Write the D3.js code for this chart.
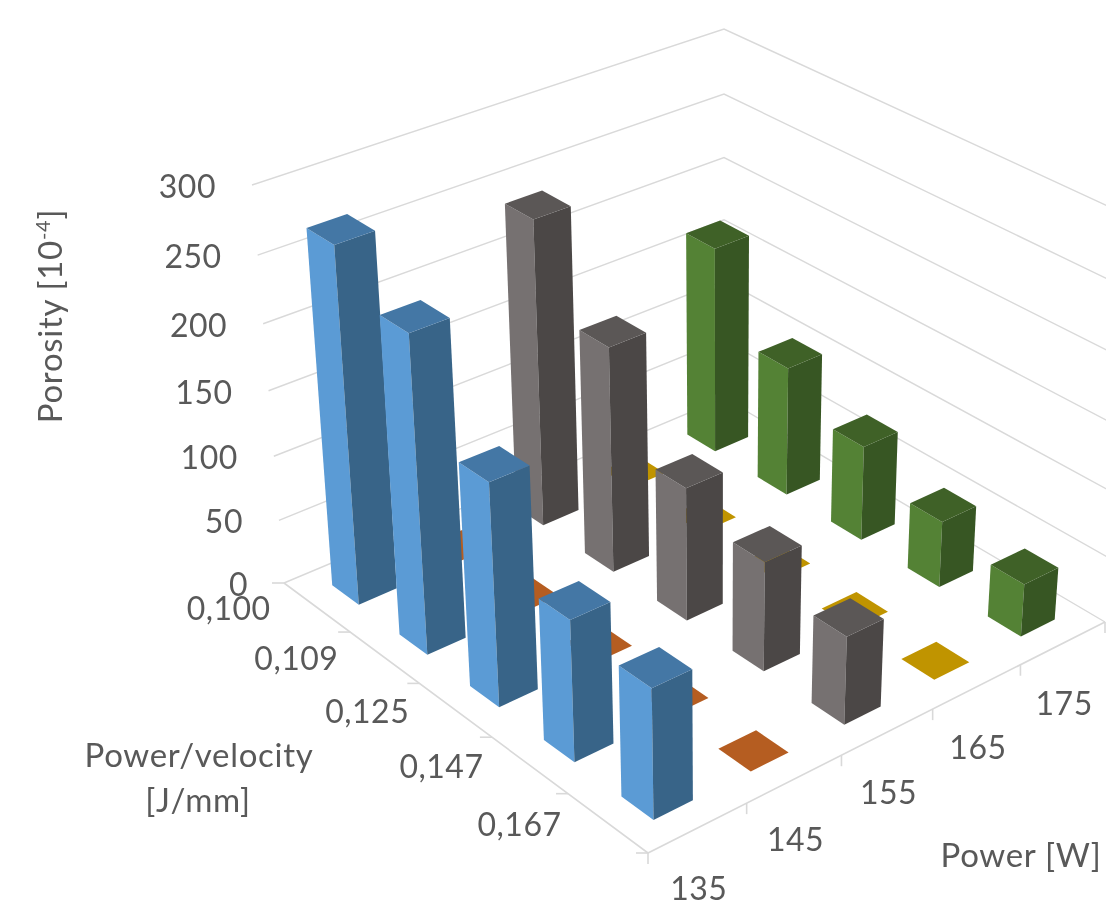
<!DOCTYPE html>
<html><head><meta charset="utf-8">
<script src="https://cdnjs.cloudflare.com/ajax/libs/d3/7.8.5/d3.min.js"></script>
<style>html,body{margin:0;padding:0;background:#fff;overflow:hidden}svg{display:block;filter:blur(0.5px)}text{font-family:Lato,"Open Sans",sans-serif;fill:#595959}</style>
</head><body><svg id="c" width="1106" height="916"></svg>
<script>
const powers = ["135","145","155","165","175"];
const energies = ["0,100","0,109","0,125","0,147","0,167"];
const porosityTicks = [0,50,100,150,200,250,300];
const s135 = [271,240,168,106,97];
const s145 = [0,0,0,0,0];
const s155 = [239,175,103,84,67];
const s165 = [0,0,0,0,0];
const s175 = [166,103,75,52,41];
const seriesValues = [s135,s145,s155,s165,s175];
const seriesColors = [
 {left:"#5B9BD5",right:"#386488",top:"#4477A5"},
 {left:"#B55D21",right:"#8a4718",top:"#B55D21"},
 {left:"#767171",right:"#4B4746",top:"#5B5756"},
 {left:"#BF9000",right:"#917000",top:"#C09400"},
 {left:"#548235",right:"#375623",top:"#3F6127"}];

// projective frame of the plot box: floor and ceiling corners
const floorC = {a:[284,583],b:[648,853],c:[1105,622],d:[724,398]};
const topC   = {a:[252,185],b:[641.5,423],c:[1138,220],d:[724,29]};
function homography(q){ // unit square (u,v): a(0,0) b(0,1) c(1,1) d(1,0)
  const [x0,y0]=q.a,[x3,y3]=q.b,[x2,y2]=q.c,[x1,y1]=q.d;
  const dx1=x1-x2,dx2=x3-x2,sx=x0-x1+x2-x3,dy1=y1-y2,dy2=y3-y2,sy=y0-y1+y2-y3;
  const den=dx1*dy2-dx2*dy1;
  const g=(sx*dy2-dx2*sy)/den,h=(dx1*sy-sx*dy1)/den;
  const A=x1-x0+g*x1,B=x3-x0+h*x3,D=y1-y0+g*y1,E=y3-y0+h*y3;
  return (u,v)=>{const w=g*u+h*v+1;return [(A*u+B*v+x0)/w,(D*u+E*v+y0)/w];};
}
const fl=homography(floorC), tp=homography(topC);
const k=1.07;
const zS=d3.scaleLinear().domain([0,300]).range([0,1]);
function P(u,v,val){
  const w=zS(val), t=w/(w+(1-w)*k);
  const p=fl(u,v),q=tp(u,v);
  return [p[0]+(q[0]-p[0])*t,p[1]+(q[1]-p[1])*t];
}
const uS=d3.scaleBand().domain(powers).range([0,1]).paddingInner(0.6).paddingOuter(0.3);
const vS=d3.scaleBand().domain(energies).range([0,1]).paddingInner(0.6).paddingOuter(0.3);
const svg=d3.select("#c");
const line=d3.line();
const grid="#D9D9D9";

// wall gridlines
svg.append("g").selectAll("path").data(porosityTicks).join("path")
  .attr("d",z=>line([P(0,0,z),P(1,0,z),P(1,1,z)]))
  .attr("fill","none").attr("stroke",grid).attr("stroke-width",1.4);
// floor edges
svg.append("path").attr("d",line([P(0,0,0),P(0,1,0),P(1,1,0)]))
  .attr("fill","none").attr("stroke",grid).attr("stroke-width",1.6);
// ticks
const edge=d3.range(6).map(i=>i/5);
svg.append("g").selectAll("path").data(edge).join("path")
  .attr("d",t=>{const p=P(0,t,0);return line([p,[p[0]-12,p[1]]]);})
  .attr("stroke",grid).attr("stroke-width",1.6);
svg.append("g").selectAll("path").data(edge).join("path")
  .attr("d",t=>{const p=P(t,1,0);return line([p,[p[0],p[1]+11]]);})
  .attr("stroke",grid).attr("stroke-width",1.6);

// bars, far to near
const bars=[];
powers.forEach((pw,i)=>energies.forEach((en,j)=>bars.push({pw,en,i,j,val:seriesValues[i][j]})));
bars.sort((a,b)=>(b.i-b.j)-(a.i-a.j));
const g=svg.append("g").selectAll("g").data(bars).join("g");
const box=d=>{const u0=uS(d.pw),u1=u0+uS.bandwidth(),v0=vS(d.en),v1=v0+vS.bandwidth();return {u0,u1,v0,v1};};
g.append("path").attr("fill",d=>seriesColors[d.i].left).attr("d",d=>{const b=box(d);
  return line([P(b.u0,b.v0,0),P(b.u0,b.v1,0),P(b.u0,b.v1,d.val),P(b.u0,b.v0,d.val)])+"Z";});
g.append("path").attr("fill",d=>seriesColors[d.i].right).attr("d",d=>{const b=box(d);
  return line([P(b.u0,b.v1,0),P(b.u1,b.v1,0),P(b.u1,b.v1,d.val),P(b.u0,b.v1,d.val)])+"Z";});
g.append("path").attr("fill",d=>seriesColors[d.i].top).attr("d",d=>{const b=box(d);
  return line([P(b.u0,b.v0,d.val),P(b.u0,b.v1,d.val),P(b.u1,b.v1,d.val),P(b.u1,b.v0,d.val)])+"Z";});

// tick labels
const fs=32, ls=0.5;
svg.append("g").selectAll("text").data(porosityTicks).join("text")
  .attr("x",z=>P(0,0,z)[0]-36).attr("y",z=>P(0,0,z)[1]+13).attr("text-anchor","end")
  .attr("font-size",fs).attr("letter-spacing",ls).text(d=>d);
svg.append("g").selectAll("text").data(energies).join("text")
  .attr("x",d=>P(0,vS(d)+vS.bandwidth()/2,0)[0]-88)
  .attr("y",d=>P(0,vS(d)+vS.bandwidth()/2,0)[1]+13)
  .attr("text-anchor","middle").attr("font-size",fs).attr("letter-spacing",ls).text(d=>d);
svg.append("g").selectAll("text").data(powers).join("text")
  .attr("x",d=>P(uS(d)+uS.bandwidth()/2,1,0)[0]+1)
  .attr("y",d=>P(uS(d)+uS.bandwidth()/2,1,0)[1]+72)
  .attr("text-anchor","middle").attr("font-size",fs).attr("letter-spacing",ls).text(d=>d);

// axis titles
const fsT=33, lsT=0.7;
const t=svg.append("text").attr("transform","translate(62,316) rotate(-90)").attr("text-anchor","middle").attr("font-size",fsT).attr("letter-spacing",lsT);
t.append("tspan").text("Porosity [10");
t.append("tspan").attr("font-size",20).attr("dy",-12).text("-4");
t.append("tspan").attr("dy",12).text("]");
svg.append("text").attr("x",199).attr("y",767).attr("text-anchor","middle").attr("font-size",fsT).attr("letter-spacing",lsT).text("Power/velocity");
svg.append("text").attr("x",198).attr("y",812).attr("text-anchor","middle").attr("font-size",fsT).attr("letter-spacing",lsT).text("[J/mm]");
svg.append("text").attr("x",1021).attr("y",867).attr("text-anchor","middle").attr("font-size",fsT).attr("letter-spacing",lsT).text("Power [W]");
</script></body></html>
